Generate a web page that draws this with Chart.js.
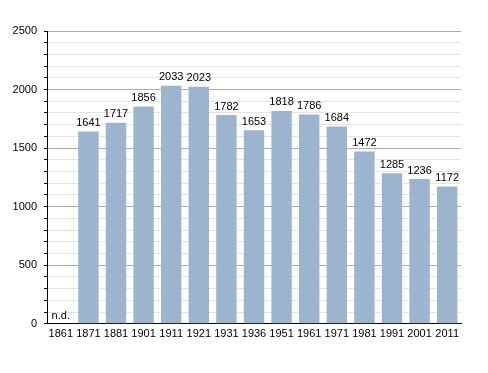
<!DOCTYPE html>
<html>
<head>
<meta charset="utf-8">
<script src="https://cdn.jsdelivr.net/npm/chart.js@4/dist/chart.umd.min.js"></script>
<style>
  html, body { margin: 0; padding: 0; background: #fff; }
  #wrap { width: 488px; height: 373px; }
</style>
</head>
<body>
<div id="wrap"><canvas id="popChart" width="488" height="373"></canvas></div>
<script>
var years = ["1861", "1871", "1881", "1901", "1911", "1921", "1931", "1936", "1951", "1961", "1971", "1981", "1991", "2001", "2011"];
var population = [null, 1641, 1717, 1856, 2033, 2023, 1782, 1653, 1818, 1786, 1684, 1472, 1285, 1236, 1172];
var yTicks = [0, 500, 1000, 1500, 2000, 2500];

// writes the value over each bar, "n.d." where there is none
var valueLabels = {
  id: 'valueLabels',
  afterDatasetsDraw: function(chart) {
    var ctx = chart.ctx;
    var meta = chart.getDatasetMeta(0);
    var yScale = chart.scales.y;
    ctx.save();
    ctx.font = '11px "Liberation Sans", Arial, sans-serif';
    ctx.fillStyle = '#000';
    ctx.textBaseline = 'bottom';
    meta.data.forEach(function(bar, i) {
      var v = population[i];
      if (v === null) {
        ctx.textAlign = 'left';
        ctx.fillText('n.d.', bar.x - bar.width / 2 + 1, yScale.getPixelForValue(0) - 2);
      } else {
        ctx.textAlign = 'center';
        ctx.fillText(String(v), bar.x, bar.y - 3);
      }
    });
    ctx.restore();
  }
};

var popChart = new Chart(document.getElementById('popChart'), {
  type: 'bar',
  data: {
    labels: years,
    datasets: [{
      data: population,
      backgroundColor: '#9db4cf',
      borderWidth: 0,
      categoryPercentage: 1,
      barPercentage: 0.74
    }]
  },
  options: {
    responsive: false,
    animation: false,
    layout: { padding: { top: 31, right: 27, bottom: 28, left: 0 } },
    plugins: { legend: { display: false }, tooltip: { enabled: false } },
    scales: {
      x: {
        grid: { display: false, drawTicks: false },
        border: { color: '#000', width: 1 },
        ticks: {
          color: '#000',
          padding: 4,
          maxRotation: 0,
          autoSkip: false,
          font: { family: '"Liberation Sans", Arial, sans-serif', size: 11 }
        }
      },
      y: {
        min: 0,
        max: 2500,
        afterFit: function(scale) { scale.width = 47; },
        border: { color: '#000', width: 1 },
        grid: {
          color: function(c) {
            if (c.tick.value === 0) return 'rgba(0,0,0,0)';
            return yTicks.indexOf(c.tick.value) >= 0 ? '#ababab' : '#e4e4e4';
          },
          tickColor: '#000',
          tickLength: 3
        },
        ticks: {
          stepSize: 100,
          color: '#000',
          padding: 7,
          autoSkip: false,
          font: { family: '"Liberation Sans", Arial, sans-serif', size: 11 },
          callback: function(v) { return yTicks.indexOf(v) >= 0 ? String(v) : ''; }
        }
      }
    }
  },
  plugins: [valueLabels]
});
</script>
</body>
</html>
